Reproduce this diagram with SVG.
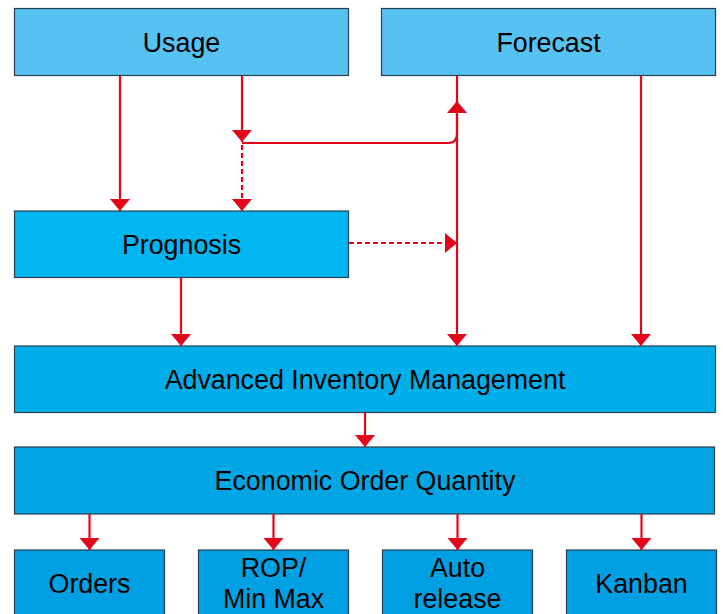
<svg xmlns="http://www.w3.org/2000/svg" width="723" height="614" viewBox="0 0 723 614">
<defs>
<style>
.box{stroke:#2a3f50;stroke-width:1.2}
.lbl{font-family:"Liberation Sans",Arial,sans-serif;font-size:26.8px;fill:#000;text-anchor:middle}
.c{fill:none;stroke:#E3061A;stroke-width:2.2}
.d{stroke-dasharray:5 3}
</style>
<marker id="ah" markerUnits="userSpaceOnUse" markerWidth="12" markerHeight="20" refX="12" refY="10" orient="auto">
<path d="M0,0 L12,10 L0,20 z" fill="#E3061A"/>
</marker>
</defs>
<rect width="723" height="614" fill="#fff"/>
<g id="usage"><rect class="box" x="14.5" y="8.5" width="334" height="67" fill="#56C2F1"/><text class="lbl" x="181.5" y="51.5">Usage</text></g>
<g id="forecast"><rect class="box" x="381.5" y="8.5" width="334" height="67" fill="#56C2F1"/><text class="lbl" x="548.5" y="51.5">Forecast</text></g>
<g id="prognosis"><rect class="box" x="14.5" y="211" width="334" height="66.5" fill="#00B6F0"/><text class="lbl" x="181.5" y="253.5">Prognosis</text></g>
<g id="aim"><rect class="box" x="14.5" y="346" width="701" height="66.5" fill="#00AEEA"/><text class="lbl" x="365" y="389">Advanced Inventory Management</text></g>
<g id="eoq"><rect class="box" x="14.5" y="447" width="700" height="67" fill="#02A6E4"/><text class="lbl" x="365" y="490">Economic Order Quantity</text></g>
<g id="orders"><rect class="box" x="14.5" y="550" width="150" height="70" fill="#00A0E2"/><text class="lbl" x="89.5" y="593">Orders</text></g>
<g id="rop"><rect class="box" x="198.5" y="550" width="150" height="70" fill="#00A0E2"/><text class="lbl" x="273.5" y="577">ROP/</text><text class="lbl" x="273.5" y="608">Min Max</text></g>
<g id="auto"><rect class="box" x="382.5" y="550" width="150" height="70" fill="#00A0E2"/><text class="lbl" x="457.5" y="577">Auto</text><text class="lbl" x="457.5" y="608">release</text></g>
<g id="kanban"><rect class="box" x="566.5" y="550" width="150" height="70" fill="#00A0E2"/><text class="lbl" x="641.5" y="593">Kanban</text></g>
<g id="connectors">
<path class="c" d="M120,75.5 V211" marker-end="url(#ah)"/>
<path class="c" d="M242,75.5 V142" marker-end="url(#ah)"/>
<path class="c" d="M242,143 H448 Q457,143 457,134 V101" marker-end="url(#ah)"/>
<path class="c d" d="M242,145 V211" marker-end="url(#ah)"/>
<path class="c d" d="M349,243 H457" marker-end="url(#ah)"/>
<path class="c" d="M457,75.5 V346" marker-end="url(#ah)"/>
<path class="c" d="M641,75.5 V346" marker-end="url(#ah)"/>
<path class="c" d="M181,277.5 V346" marker-end="url(#ah)"/>
<path class="c" d="M365,412.5 V447" marker-end="url(#ah)"/>
<path class="c" d="M89.5,514 V550" marker-end="url(#ah)"/>
<path class="c" d="M273.5,514 V550" marker-end="url(#ah)"/>
<path class="c" d="M457.5,514 V550" marker-end="url(#ah)"/>
<path class="c" d="M641.5,514 V550" marker-end="url(#ah)"/>
</g>
</svg>
